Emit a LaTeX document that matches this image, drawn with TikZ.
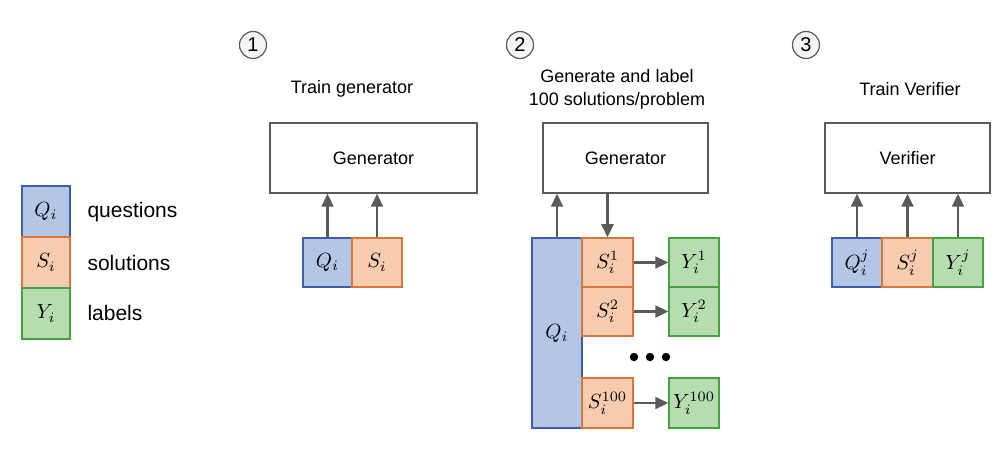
\documentclass[tikz,border=0pt]{standalone}
\usepackage{graphicx}
\usepackage{fontspec}
\setmainfont{Liberation Sans}
\usetikzlibrary{arrows.meta}
\definecolor{qfill}{HTML}{B4C6E6}
\definecolor{qdraw}{HTML}{3F5EA8}
\definecolor{sfill}{HTML}{F6CBAE}
\definecolor{sdraw}{HTML}{D9773B}
\definecolor{yfill}{HTML}{B6DDB0}
\definecolor{ydraw}{HTML}{46A040}
\definecolor{linegray}{HTML}{5A5A5A}
\newcommand{\mlab}[1]{\scalebox{2.05}{\fontsize{10}{12}\selectfont$#1$}}
\begin{document}
\begin{tikzpicture}[x=1pt,y=-1pt,
  qbox/.style={draw=qdraw,fill=qfill,line width=1.5pt,inner sep=0pt},
  sbox/.style={draw=sdraw,fill=sfill,line width=1.5pt,inner sep=0pt},
  ybox/.style={draw=ydraw,fill=yfill,line width=1.5pt,inner sep=0pt},
  bigbox/.style={draw=linegray,line width=1.5pt,fill=white,font=\fontsize{18}{21}\selectfont},
  numcirc/.style={circle,draw=linegray,line width=1.2pt,fill=gray!8,minimum size=27pt,inner sep=0pt,font=\fontsize{20}{22}\selectfont},
  title/.style={font=\fontsize{18}{23}\selectfont,align=center},
  legtext/.style={font=\fontsize{21}{24}\selectfont,anchor=west},
  arr/.style={draw=linegray,line width=2.2pt,-{Triangle[length=13pt,width=12pt]}}
]
\useasboundingbox (0,0) rectangle (998,454);
\fill[white] (0,0) rectangle (998,454);

% legend
\node[qbox,minimum width=48pt,minimum height=51pt] (lq) at (46,211.5) {\mlab{Q_i}};
\node[sbox,minimum width=48pt,minimum height=51pt] (ls) at (46,262.5) {\mlab{S_i}};
\node[ybox,minimum width=48pt,minimum height=51pt] (ly) at (46,313.5) {\mlab{Y_i}};
\node[legtext] (lqt) at (84,212) {questions};
\node[legtext] (lst) at (84,263) {solutions};
\node[legtext] (lyt) at (84,313) {labels};

% panel 1
\node[numcirc] (n1) at (253,45) {1};
\node[title] (t1) at (352,89) {Train generator};
\node[bigbox,minimum width=207pt,minimum height=70pt] (g1) at (373.5,158) {Generator};
\node[qbox,minimum width=49pt,minimum height=49pt] (q1) at (327.5,262.5) {\mlab{Q_i}};
\node[sbox,minimum width=50pt,minimum height=49pt] (s1) at (377,262.5) {\mlab{S_i}};
\draw[arr] (q1.north) -- (q1.north |- g1.south);
\draw[arr] (s1.north) -- (s1.north |- g1.south);

% panel 2
\node[numcirc] (n2) at (520,45) {2};
\node[title] (t2) at (617,89) {Generate and label\\100 solutions/problem};
\node[bigbox,minimum width=165pt,minimum height=70pt] (g2) at (625.5,158) {Generator};
\node[qbox,minimum width=50pt,minimum height=190pt] (q2) at (557,333) {\mlab{Q_i}};
\node[sbox,minimum width=51pt,minimum height=49pt] (s21) at (607.5,262.5) {\mlab{S_i^1}};
\node[sbox,minimum width=51pt,minimum height=49pt] (s22) at (607.5,311.5) {\mlab{S_i^2}};
\node[sbox,minimum width=51pt,minimum height=50pt] (s23) at (607.5,403) {\mlab{S_i^{100}}};
\node[ybox,minimum width=50pt,minimum height=49pt] (y21) at (694,262.5) {\mlab{Y_i^1}};
\node[ybox,minimum width=50pt,minimum height=49pt] (y22) at (694,311.5) {\mlab{Y_i^2}};
\node[ybox,minimum width=50pt,minimum height=50pt] (y23) at (694,403) {\mlab{Y_i^{100}}};
\draw[arr] (q2.north) -- (q2.north |- g2.south);
\draw[arr] (s21.north |- g2.south) -- (s21.north);
\draw[arr] (s21.east) -- (y21.west);
\draw[arr] (s22.east) -- (y22.west);
\draw[arr] (s23.east) -- (y23.west);
\fill (634,357) circle (4.2pt) (650,357) circle (4.2pt) (666,357) circle (4.2pt);
\node[inner sep=0pt] (dots) at (650,357) {};

% panel 3
\node[numcirc] (n3) at (806,45) {3};
\node[title] (t3) at (910,89) {Train Verifier};
\node[bigbox,minimum width=165pt,minimum height=70pt] (v3) at (907.5,158) {Verifier};
\node[qbox,minimum width=50pt,minimum height=49pt] (q3) at (857,262.5) {\mlab{Q_i^j}};
\node[sbox,minimum width=51pt,minimum height=49pt] (s3) at (907.5,262.5) {\mlab{S_i^j}};
\node[ybox,minimum width=50pt,minimum height=49pt] (y3) at (958,262.5) {\mlab{Y_i^j}};
\draw[arr] (q3.north) -- (q3.north |- v3.south);
\draw[arr] (s3.north) -- (s3.north |- v3.south);
\draw[arr] (y3.north) -- (y3.north |- v3.south);
\end{tikzpicture}
\end{document}
